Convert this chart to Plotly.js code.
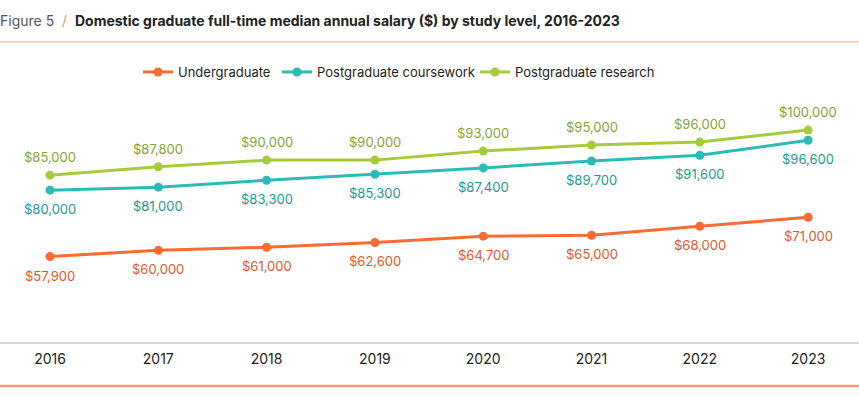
<!DOCTYPE html>
<html>
<head>
<meta charset="utf-8">
<script src="https://cdn.plot.ly/plotly-3.0.1.min.js"></script>
<style>html,body{margin:0;padding:0;background:#fff;}#chart{width:859px;height:396px;}</style>
</head>
<body>
<div id="chart"></div>
<script>
const years = ["2016","2017","2018","2019","2020","2021","2022","2023"];
const undergraduate = [57900, 60000, 61000, 62600, 64700, 65000, 68000, 71000];
const pgCoursework = [80000, 81000, 83300, 85300, 87400, 89700, 91600, 96600];
const pgResearch = [85000, 87800, 90000, 90000, 93000, 95000, 96000, 100000];
const seriesNames = ["Undergraduate", "Postgraduate coursework", "Postgraduate research"];

const fmt = v => "$" + v.toLocaleString("en-US");
const xs = years.map((y, i) => i);
const FONT = "Inter, 'Noto Sans', sans-serif";

function trace(name, vals, color, legendId) {
  return {
    type: "scatter", mode: "lines+markers", name: name,
    x: xs, y: vals, legend: legendId,
    line: {color: color, width: 3},
    marker: {color: color, size: 9},
    cliponaxis: false,
    hoverinfo: "skip"
  };
}
function labels(vals, textColor, shift) {
  return vals.map((v, i) => ({
    x: xs[i], y: v, xref: "x", yref: "y", text: fmt(v), showarrow: false,
    yshift: shift, xanchor: "center", yanchor: "middle",
    font: {color: textColor, size: 13, family: FONT}
  }));
}

const data = [
  trace(seriesNames[0], undergraduate, "#fb6b33", "legend"),
  trace(seriesNames[1], pgCoursework, "#2bbbb6", "legend2"),
  trace(seriesNames[2], pgResearch, "#a6cb3a", "legend3")
];

const annotations = [].concat(
  labels(undergraduate, "#e0582a", -19),
  labels(pgCoursework, "#1e9893", -19),
  labels(pgResearch, "#86a335", 18),
  [{
    xref: "paper", yref: "paper", x: 0, y: 1 + 80/242, xanchor: "left", yanchor: "middle",
    showarrow: false, align: "left", xshift: -2,
    text: '<span style="color:#555">Figure 5</span>  <span style="color:#f58a5c">/</span>  <b>Domestic graduate full-time median annual salary ($) by study level, 2016-2023</b>',
    font: {size: 14, color: "#222", family: FONT}
  }]
);

function leg(px) {
  return {orientation: "h", x: px / 859, xanchor: "left", y: 1 + 28/242, yanchor: "middle", yref: "paper",
          font: {size: 13, color: "#222", family: FONT}, bgcolor: "rgba(0,0,0,0)"};
}

const layout = {
  width: 859, height: 396,
  margin: {l: 0, r: 0, t: 100, b: 54},
  paper_bgcolor: "#fff", plot_bgcolor: "#fff",
  font: {family: FONT, color: "#222"},
  showlegend: true,
  legend: leg(138),
  legend2: leg(277),
  legend3: leg(475),
  xaxis: {
    range: [-0.4617, 7.47], tickmode: "array", tickvals: xs, ticktext: years,
    showgrid: false, zeroline: false, showline: true, linecolor: "#d3d3d3", linewidth: 1.5,
    ticks: "", ticklabelstandoff: 4, tickfont: {size: 14, color: "#222", family: FONT}, fixedrange: true
  },
  yaxis: {range: [29500, 110000], visible: false, showgrid: false, zeroline: false, fixedrange: true},
  shapes: [
    {type: "line", xref: "paper", yref: "paper", x0: 0, x1: 1, y0: 1 + 58/242, y1: 1 + 58/242,
     line: {color: "#fcd3bd", width: 2}},
    {type: "line", xref: "paper", yref: "paper", x0: 0, x1: 1, y0: -44/242, y1: -44/242,
     line: {color: "#f99a6f", width: 2.5}}
  ],
  annotations: annotations
};

Plotly.newPlot("chart", data, layout, {displayModeBar: false, staticPlot: true});
</script>
</body>
</html>
